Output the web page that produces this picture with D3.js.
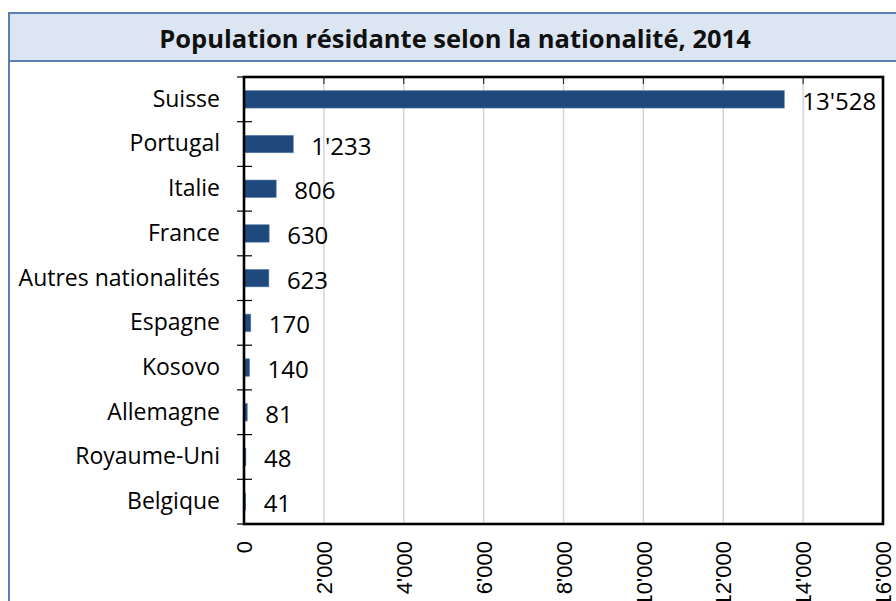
<!DOCTYPE html>
<html><head><meta charset="utf-8">
<script src="https://cdn.jsdelivr.net/npm/d3@7"></script>
<style>body{margin:0;background:#fff;}svg{display:block;}</style>
</head><body>
<svg id="c" width="896" height="601"></svg>
<script>
const categories = ["Suisse","Portugal","Italie","France","Autres nationalités","Espagne","Kosovo","Allemagne","Royaume-Uni","Belgique"];
const values = [13528,1233,806,630,623,170,140,81,48,41];
const valueLabels = ["13'528","1'233","806","630","623","170","140","81","48","41"];
const tickValues = [0,2000,4000,6000,8000,10000,12000,14000,16000];
const tickLabels = ["0","2'000","4'000","6'000","8'000","10'000","12'000","14'000","16'000"];
const title = "Population résidante selon la nationalité, 2014";

const font = "'Open Sans', Lato, sans-serif";
const tickFont = "'Liberation Sans', Arial, sans-serif";
const svg = d3.select("#c");

// outer frame and title band
svg.append("rect").attr("x",9).attr("y",13).attr("width",900).attr("height",620)
  .attr("fill","#fff").attr("stroke","#5b7fb3").attr("stroke-width",2);
svg.append("rect").attr("x",9).attr("y",13).attr("width",900).attr("height",48)
  .attr("fill","#dce6f2").attr("stroke","#5b7fb3").attr("stroke-width",2);
svg.append("text").attr("x",455).attr("y",38).attr("text-anchor","middle")
  .attr("dominant-baseline","central").attr("font-family",font).attr("font-weight","bold")
  .attr("font-size",25.5).attr("fill","#111").text(title);

const L=244, R=883, T=77, B=524;
const x = d3.scaleLinear().domain([0,16000]).range([L,R]);
const y = d3.scaleBand().domain(categories).range([T,B]).paddingInner(0.61).paddingOuter(0.305);
const yb = d3.scaleBand().domain(categories).range([T,B]);

const g = svg.append("g");
// gridlines
g.selectAll("line.grid").data(tickValues.slice(1,-1)).join("line").attr("class","grid")
  .attr("x1",d=>x(d)).attr("x2",d=>x(d)).attr("y1",T).attr("y2",B)
  .attr("stroke","#d0d0d0").attr("stroke-width",1.3);
g.selectAll("line.tt").data(tickValues.slice(1,-1)).join("line").attr("class","tt")
  .attr("x1",d=>x(d)).attr("x2",d=>x(d)).attr("y1",T).attr("y2",T+7)
  .attr("stroke","#333").attr("stroke-width",1.2);

// bars
g.selectAll("rect.bar").data(values).join("rect").attr("class","bar")
  .attr("x",x(0)).attr("y",(d,i)=>y(categories[i]))
  .attr("width",d=>x(d)-x(0)).attr("height",y.bandwidth())
  .attr("fill","#1f497d").attr("stroke","#5a7fae").attr("stroke-width",0.6);

// value labels
g.selectAll("text.val").data(values).join("text").attr("class","val")
  .attr("x",d=>x(d)+18).attr("y",(d,i)=>yb(categories[i])+yb.bandwidth()/2+1)
  .attr("dominant-baseline","central").attr("font-family",font).attr("font-size",24)
  .attr("fill","#000").text((d,i)=>valueLabels[i]);

// plot border
svg.append("rect").attr("x",L).attr("y",T).attr("width",R-L).attr("height",B-T)
  .attr("fill","none").attr("stroke","#000").attr("stroke-width",2.6);

// category axis
const yAxis = d3.axisLeft(yb).tickSize(0).tickPadding(24);
const ya = svg.append("g").attr("transform",`translate(${L},0)`).call(yAxis);
ya.select(".domain").remove();
ya.selectAll("text").attr("font-family",font).attr("font-size",23).attr("fill","#000");
// category tick marks (crossing)
svg.selectAll("line.ct").data(d3.range(categories.length+1)).join("line").attr("class","ct")
  .attr("x1",L-7).attr("x2",L+8).attr("y1",i=>T+i*yb.step()).attr("y2",i=>T+i*yb.step())
  .attr("stroke","#000").attr("stroke-width",1.2);

// value axis labels
const xAxis = d3.axisBottom(x).tickValues(tickValues).tickSize(0).tickFormat((d,i)=>tickLabels[i]);
const xa = svg.append("g").attr("transform",`translate(0,${B})`).call(xAxis);
xa.select(".domain").remove();
xa.selectAll("text").attr("font-family",tickFont).attr("font-size",22).attr("fill","#000")
  .attr("transform","rotate(-90)").attr("text-anchor","end")
  .attr("x",-17).attr("y",0).attr("dy","0.35em");
</script>
</body></html>
